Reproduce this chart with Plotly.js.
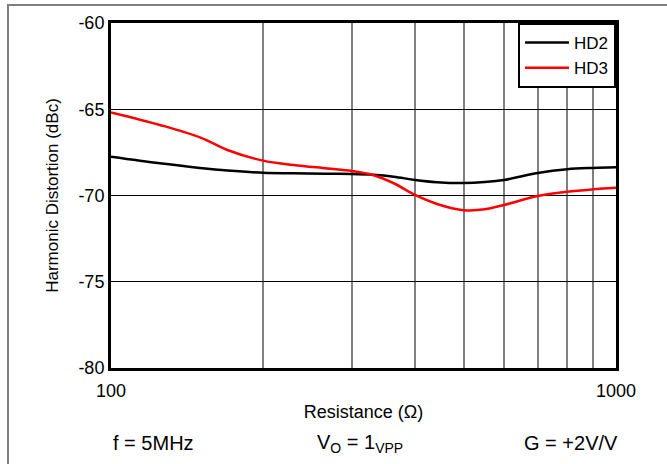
<!DOCTYPE html>
<html>
<head>
<meta charset="utf-8">
<script src="https://cdn.plot.ly/plotly-3.0.1.min.js"></script>
<style>
html,body{margin:0;padding:0;background:#fff;}
#chart{width:667px;height:464px;}
</style>
</head>
<body>
<div id="chart"></div>
<script>
// Data
const resistance = [100, 125, 150, 170, 200, 230, 268, 300, 330, 363, 400, 442, 500, 550, 600, 700, 800, 900, 1000];
const hd2 = [-67.75, -68.13, -68.40, -68.55, -68.68, -68.71, -68.74, -68.75, -68.80, -68.91, -69.10, -69.23, -69.28, -69.22, -69.10, -68.70, -68.48, -68.40, -68.36];
const hd3 = [-65.18, -65.91, -66.63, -67.36, -67.98, -68.23, -68.43, -68.58, -68.81, -69.29, -69.97, -70.49, -70.85, -70.80, -70.55, -70.03, -69.78, -69.64, -69.55];
const xTickVals = [100, 200, 300, 400, 500, 600, 700, 800, 900, 1000];
const xTickText = ['100', '', '', '', '', '', '', '', '', '1000'];
const yTickVals = [-80, -75, -70, -65, -60];
const yTickText = ['-80', '-75', '-70', '-65', '-60'];
const seriesNames = ['HD2', 'HD3'];
const notes = ['f = 5MHz', 'V<sub>O</sub> = 1<sub>VPP</sub>', 'G = +2V/V'];

const FONT = 'Liberation Sans, Arial, sans-serif';

const traces = [
  {x: resistance, y: hd2, name: seriesNames[0], mode: 'lines',
   line: {color: '#000000', width: 2.5, shape: 'spline', smoothing: 1}},
  {x: resistance, y: hd3, name: seriesNames[1], mode: 'lines',
   line: {color: '#ff0000', width: 2.5, shape: 'spline', smoothing: 1}}
];

const W = 667, H = 464, ml = 111, mr = 51, mt = 23, mb = 96;
const pw = W - ml - mr, ph = H - mt - mb;
const px = v => (v - ml) / pw;
const py = v => (H - mb - v) / ph;

const layout = {
  width: W, height: H,
  margin: {l: ml, r: mr, t: mt, b: mb},
  paper_bgcolor: '#ffffff', plot_bgcolor: '#ffffff',
  font: {family: FONT, color: '#000000', size: 16},
  showlegend: true,
  legend: {x: 1, y: 1, xanchor: 'right', yanchor: 'top',
    bordercolor: '#000000', borderwidth: 2, bgcolor: '#ffffff',
    font: {family: FONT, size: 17}, itemwidth: 44},
  xaxis: {type: 'log', range: [2, 3], tickvals: xTickVals, ticktext: xTickText,
    showgrid: true, gridcolor: '#7f7f7f', gridwidth: 1.5,
    showline: true, linecolor: '#000000', linewidth: 3, mirror: true,
    ticks: '', zeroline: false, tickfont: {family: FONT, size: 18},
    ticklabelstandoff: 4,
    title: {text: 'Resistance (Ω)', font: {family: FONT, size: 18}, standoff: 6}},
  yaxis: {range: [-80, -60], tickvals: yTickVals, ticktext: yTickText,
    showgrid: true, gridcolor: '#000000', gridwidth: 1,
    showline: true, linecolor: '#000000', linewidth: 3, mirror: true,
    ticks: '', zeroline: false, tickfont: {family: FONT, size: 18},
    title: {text: 'Harmonic Distortion (dBc)', font: {family: FONT, size: 17}, standoff: 16}},
  shapes: [
    {type: 'rect', xref: 'paper', yref: 'paper',
     x0: px(8), x1: px(672), y0: py(470), y1: py(5),
     line: {color: '#7f7f7f', width: 2}, fillcolor: 'rgba(0,0,0,0)', layer: 'below'}
  ],
  annotations: [
    {text: notes[0], xref: 'paper', yref: 'paper', x: px(153), y: py(443), showarrow: false, xanchor: 'center', yanchor: 'middle', font: {family: FONT, size: 20}},
    {text: notes[1], xref: 'paper', yref: 'paper', x: px(360), y: py(443), showarrow: false, xanchor: 'center', yanchor: 'middle', font: {family: FONT, size: 20}},
    {text: notes[2], xref: 'paper', yref: 'paper', x: px(571), y: py(443), showarrow: false, xanchor: 'center', yanchor: 'middle', font: {family: FONT, size: 20}}
  ]
};

Plotly.newPlot('chart', traces, layout, {displayModeBar: false, staticPlot: true});
</script>
</body>
</html>
